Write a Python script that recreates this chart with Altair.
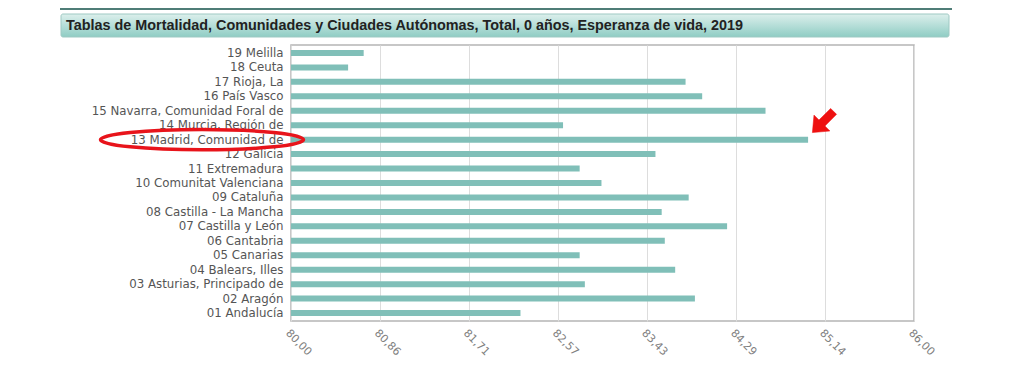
import altair as alt
import pandas as pd

regions = [
    "19 Melilla", "18 Ceuta", "17 Rioja, La", "16 País Vasco",
    "15 Navarra, Comunidad Foral de", "14 Murcia, Región de",
    "13 Madrid, Comunidad de", "12 Galicia", "11 Extremadura",
    "10 Comunitat Valenciana", "09 Cataluña", "08 Castilla - La Mancha",
    "07 Castilla y León", "06 Cantabria", "05 Canarias", "04 Balears, Illes",
    "03 Asturias, Principado de", "02 Aragón", "01 Andalucía",
]
life_expectancy = [
    80.70, 80.55, 83.80, 83.96, 84.57, 82.62, 84.98, 83.51, 82.78, 82.99,
    83.83, 83.57, 84.20, 83.60, 82.78, 83.70, 82.83, 83.89, 82.21,
]
x_ticks = [80.0, 80.857, 81.714, 82.571, 83.429, 84.286, 85.143, 86.0]
title_text = "Tablas de Mortalidad, Comunidades y Ciudades Autónomas, Total, 0 años, Esperanza de vida, 2019"
highlight = "13 Madrid, Comunidad de"

df = pd.DataFrame({"region": regions, "value": life_expectancy})
hl = pd.DataFrame({"region": [highlight]})

W, H = 623, 276
LABEL_FONT = "DejaVu Sans"

y_enc = alt.Y(
    "region:N", sort=regions, title=None,
    scale=alt.Scale(paddingInner=0, paddingOuter=0.05),
    axis=alt.Axis(labelFont=LABEL_FONT, labelFontSize=11.8, labelColor="#555555",
                  ticks=False, domain=False, labelPadding=8, grid=False,
                  labelLimit=300),
)

label_expr = ("floor(datum.value) + ',' + "
              "format(round((datum.value - floor(datum.value)) * 100), '02d')")

bars = alt.Chart(df).mark_bar(size=6, color="#80bfb8", clip=True).encode(
    x=alt.X("value:Q", title=None,
            scale=alt.Scale(domain=[80, 86], zero=False, nice=False),
            axis=alt.Axis(values=x_ticks, labelExpr=label_expr,
                          labelAngle=45, labelFont=LABEL_FONT, labelFontSize=11,
                          labelColor="#808080", labelPadding=6, ticks=False,
                          domain=False, gridColor="#dddddd", gridWidth=1)),
    y=y_enc,
)

ellipse_path = ("M -1 0 C -1 -0.0552 -0.5523 -0.1 0 -0.1 "
                "C 0.5523 -0.1 1 -0.0552 1 0 "
                "C 1 0.0552 0.5523 0.1 0 0.1 "
                "C -0.5523 0.1 -1 0.0552 -1 0 Z")
ellipse = alt.Chart(hl).mark_point(
    shape=ellipse_path, filled=False, stroke="#e8141b", strokeWidth=3.5,
    size=203 * 203, opacity=1,
).encode(x=alt.value(-89), y=alt.Y("region:N", sort=regions))

arrow_path = ("M 0 -1 L 0.75 -0.1 L 0.28 -0.1 L 0.28 1 L -0.28 1 "
              "L -0.28 -0.1 L -0.75 -0.1 Z")
arrow = alt.Chart(hl).mark_point(
    shape=arrow_path, filled=True, fill="#ee1111", stroke="#ee1111",
    strokeWidth=0.5, size=30 * 30, angle=225, opacity=1,
).encode(x=alt.value(532), y=alt.value(77))

top_line = alt.Chart(hl).mark_rule(color="#4f7d77", strokeWidth=2).encode(
    x=alt.value(-231), x2=alt.value(661), y=alt.value(-36)
)

title_box = alt.Chart(hl).mark_rect(
    fill=alt.LinearGradient(
        gradient="linear", x1=0, y1=0, x2=0, y2=1,
        stops=[alt.GradientStop(offset=0, color="#dcefec"),
               alt.GradientStop(offset=1, color="#8fcdc4")]),
    stroke="#9ec9c3", strokeWidth=1, cornerRadius=2,
).encode(x=alt.value(-230), x2=alt.value(658), y=alt.value(-31), y2=alt.value(-8))

title = alt.Chart(hl).mark_text(
    text=title_text, align="left", baseline="middle", font="Liberation Sans",
    fontSize=14.4, fontWeight="bold", color="#222222",
).encode(x=alt.value(-225), y=alt.value(-19))

chart = alt.layer(bars, ellipse, arrow, top_line, title_box, title).properties(
    width=W, height=H,
    autosize=alt.AutoSizeParams(type="none"),
    padding={"left": 283, "top": 37, "right": 102, "bottom": 55},
).configure_view(stroke="#b5b5b5", strokeWidth=1.5)

chart.save("out.html", embed_options={"renderer": "svg", "actions": False})
